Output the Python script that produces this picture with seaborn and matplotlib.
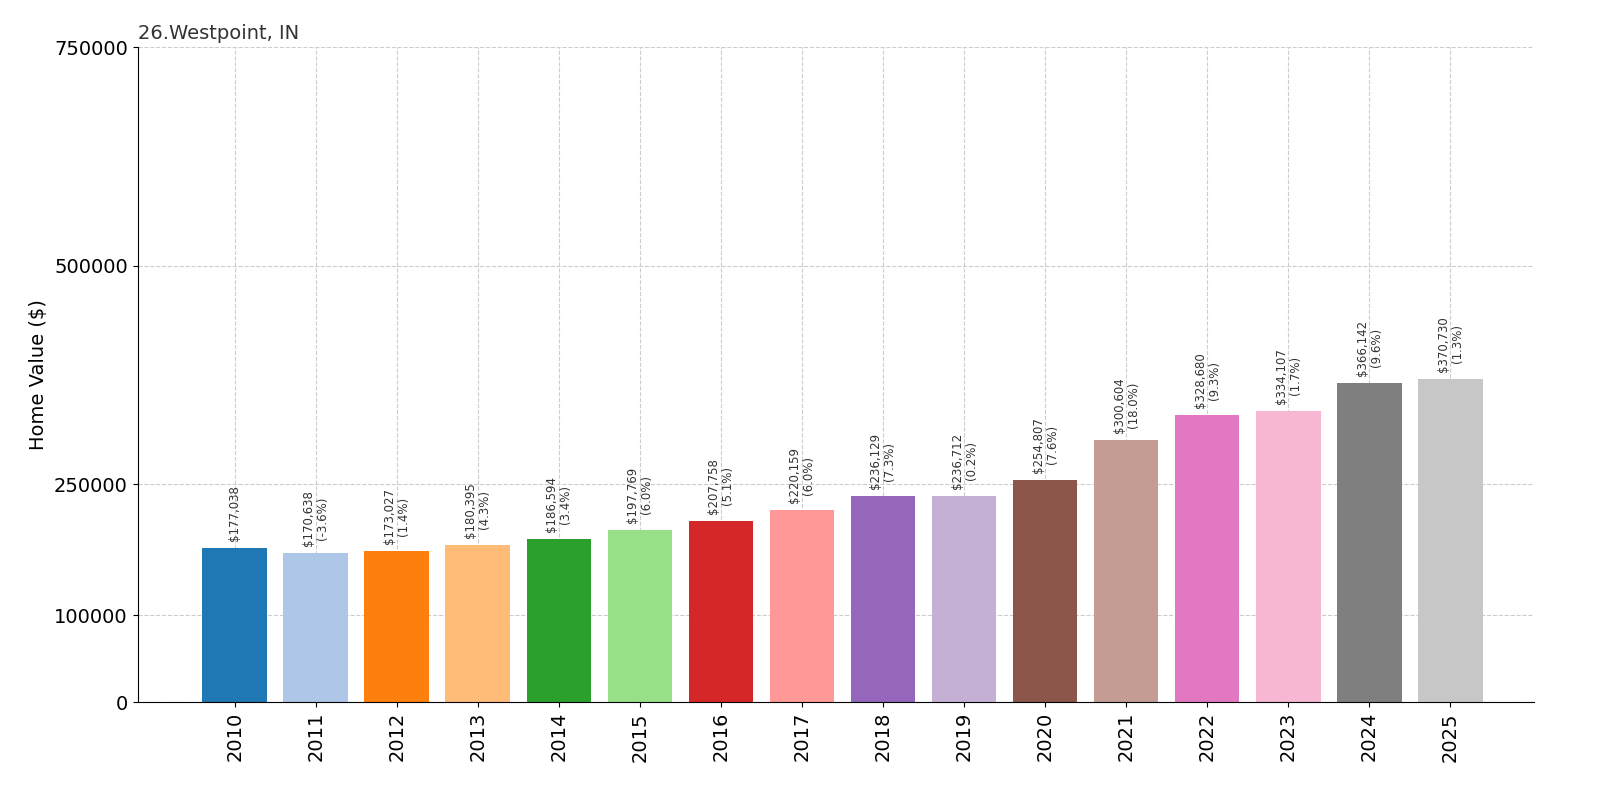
import matplotlib
matplotlib.use("Agg")
import matplotlib.pyplot as plt
import seaborn as sns
import pandas as pd

years = [str(y) for y in range(2010, 2026)]
values = [177038, 170638, 173027, 180395, 186594, 197769, 207758, 220159,
          236129, 236712, 254807, 300604, 328680, 334107, 366142, 370730]
changes = [None, -3.6, 1.4, 4.3, 3.4, 6.0, 5.1, 6.0, 7.3, 0.2, 7.6, 18.0, 9.3, 1.7, 9.6, 1.3]
yticks = [0, 100000, 250000, 500000, 750000]

df = pd.DataFrame({"year": years, "value": values})
colors = list(plt.get_cmap("tab20").colors)[:16]

fig = plt.figure(figsize=(16, 8), dpi=100)
ax = fig.add_axes([0.086, 0.122, 0.873, 0.819])
sns.barplot(data=df, x="year", y="value", hue="year", palette=colors,
            legend=False, ax=ax, width=0.8, saturation=1, zorder=2)
ax.set_ylim(0, 750000)
ax.set_yticks(yticks)
ax.set_yticklabels([str(t) for t in yticks], fontsize=14)
ax.set_xlim(-1.2, 16.04)
ax.tick_params(axis="x", labelrotation=90, labelsize=14)
ax.grid(True, linestyle="--", color="#cccccc", linewidth=0.8, zorder=0)
ax.set_axisbelow(True)
for s in ["top", "right"]:
    ax.spines[s].set_visible(False)
ax.set_xlabel("")
ax.set_ylabel("Home Value ($)", fontsize=14)
for i, (v, c) in enumerate(zip(values, changes)):
    txt = f"${v:,}" if c is None else f"${v:,}\n({c:.1f}%)"
    ax.text(i, v + 8000, txt, rotation=90, ha="center", va="bottom",
            fontsize=8.5, color="#333333", linespacing=1.1)
ax.set_title("26.Westpoint, IN", loc="left", fontsize=14, color="#333333", pad=6, x=0.0)
fig.savefig("out.png", dpi=100)
